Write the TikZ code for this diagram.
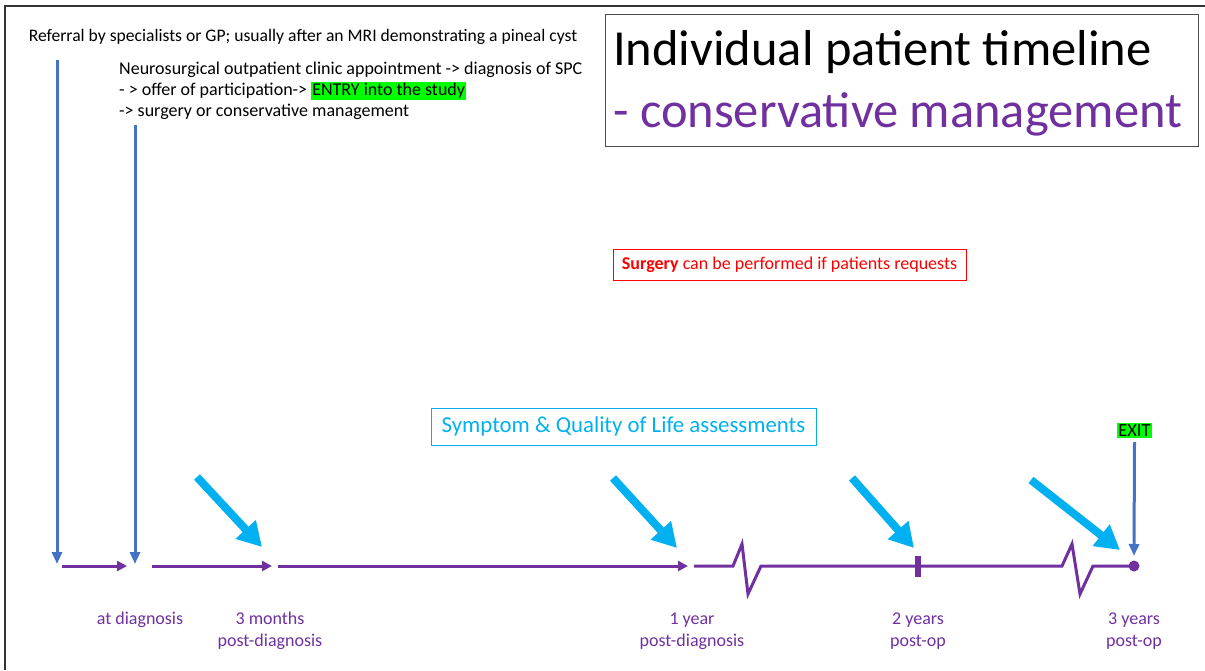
\documentclass[tikz,border=0pt]{standalone}
\usepackage{fontspec}
\setmainfont{Carlito}
\usetikzlibrary{arrows.meta}
\definecolor{tlpurple}{HTML}{7030A0}
\definecolor{tlblue}{HTML}{4472C4}
\definecolor{tlcyan}{HTML}{00B0F0}
\definecolor{tlgreen}{HTML}{00FF00}
\begin{document}
\begin{tikzpicture}[
		x=1pt, y=-1pt,
		body/.style={font=\fontsize{18}{21}\selectfont, inner sep=0pt, align=left},
		when/.style={font=\fontsize{18}{21.5}\selectfont, text=tlpurple, align=center, inner sep=0pt},
		timeline/.style={tlpurple, line width=3pt},
		tlarrow/.style={timeline, -{Triangle[length=10pt,width=10pt]}},
		entryarrow/.style={tlblue, line width=3pt, -{Triangle[length=12pt,width=10pt]}},
		assessarrow/.style={tlcyan, line width=8pt, -{Triangle[length=24pt,width=26pt]}}
	]
	\useasboundingbox (0,0) rectangle (1205,670);
	% slide frame
	\draw[line width=1.5pt, black!80] (5,670) -- (5,6) -- (1205,6);

	% title
	\node[draw=black!70, line width=1pt, minimum width=593pt, minimum height=132pt,
		inner sep=0pt] (title) at (901.5,80) {};
	\node[anchor=west, inner sep=0pt, font=\fontsize{50.5}{62}\selectfont, align=left]
		(titletext) at (613,83) {Individual patient timeline\\\textcolor{tlpurple}{- conservative management}};

	% referral and entry
	\node[body, font=\fontsize{17.6}{21}\selectfont] (referral) at (303,37) {Referral by specialists or GP; usually after an MRI demonstrating a pineal cyst};
	\node[body, anchor=north west] (clinic) at (119,62) {Neurosurgical outpatient clinic appointment -> diagnosis of SPC\\
		- > offer of participation-> {\setlength{\fboxsep}{1pt}\colorbox{tlgreen}{ENTRY into the study}}\\
		-> surgery or conservative management};

	% boxes
	\node[draw=red, text=red, body, inner xsep=9pt, minimum height=31pt] (surgery) at (789.5,264.5)
		{\textbf{Surgery} can be performed if patients requests};
	\node[draw=tlcyan, text=tlcyan, line width=1pt, font=\fontsize{22.8}{26}\selectfont, inner xsep=8pt,
		minimum width=385pt, minimum height=37pt] (assess) at (623.5,426.5) {Symptom \& Quality of Life assessments};
	\node[fill=tlgreen, font=\fontsize{18.5}{20}\selectfont, inner sep=1.5pt] (exit) at (1134.5,430.5) {EXIT};

	% timeline points
	\coordinate (ref) at (57,60);
	\coordinate (refend) at (57,564);
	\coordinate (entry) at (135,125);
	\coordinate (entryend) at (135,564);
	\coordinate (exitend) at (1134,556);
	\coordinate (t0) at (62,566);
	\coordinate (t1) at (127,566);
	\coordinate (t2) at (152,566);
	\coordinate (t3) at (272,566);
	\coordinate (t4) at (278,566);
	\coordinate (t5) at (688,566);
	\coordinate (t6) at (694,566);
	\coordinate (yr2) at (918,566);
	\coordinate (yr3) at (1134,566);

	\draw[entryarrow] (ref) -- (refend);
	\draw[entryarrow] (entry) -- (entryend);
	\draw[entryarrow] ([yshift=-4pt]exit.south) -- (exitend);

	\draw[tlarrow] (t0) -- (t1);
	\draw[tlarrow] (t2) -- (t3);
	\draw[tlarrow] (t4) -- (t5);
	\draw[timeline, line join=miter] (t6) -- (733,566) -- (742,544) -- (748,594) -- (761,566)
		-- (yr2) -- (1062,566) -- (1072,544) -- (1080,594) -- (1093,566) -- (yr3);
	\fill[tlpurple] (915,556) rectangle (921,577);
	\fill[tlpurple] (yr3) circle (5.5pt);

	% assessment arrows
	\draw[assessarrow] (197,477) -- (262,547);
	\draw[assessarrow] (613,478) -- (677,548);
	\draw[assessarrow] (852,478) -- (914,548);
	\draw[assessarrow] (1031,480) -- (1120,550);

	% labels
	\node[when] (lab0) at (140,620) {at diagnosis};
	\node[when] (lab1) at (270,631) {3 months\\post-diagnosis};
	\node[when] (lab2) at (692,631) {1 year\\post-diagnosis};
	\node[when] (lab3) at (918,631) {2 years\\post-op};
	\node[when] (lab4) at (1134,631) {3 years\\post-op};
\end{tikzpicture}
\end{document}
